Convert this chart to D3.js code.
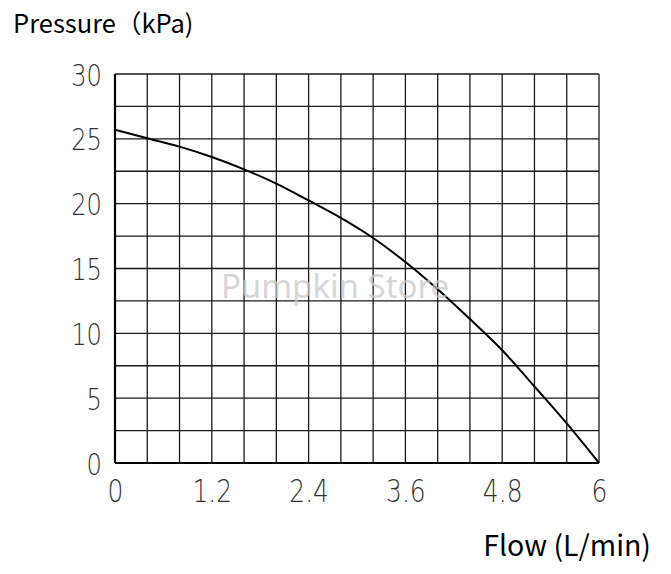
<!DOCTYPE html>
<html>
<head>
<meta charset="utf-8">
<script src="https://cdn.jsdelivr.net/npm/d3@7"></script>
<style>
  body { margin: 0; background: #fff; }
  svg { display: block; }
</style>
</head>
<body>
<div id="chart"></div>
<script>
// pump curve data
var flow = [0, 0.4, 0.8, 1.2, 1.6, 2.0, 2.4, 2.8, 3.2, 3.6, 4.0, 4.4, 4.8, 5.2, 5.6, 6.0];
var pressure = [25.7, 25.05, 24.4, 23.6, 22.65, 21.55, 20.25, 18.9, 17.35, 15.5, 13.4, 11.1, 8.7, 5.9, 3.05, 0];

var xTicks = [0, 1.2, 2.4, 3.6, 4.8, 6];
var xTickLabels = ["0", "1.2", "2.4", "3.6", "4.8", "6"];
var yTicks = [0, 5, 10, 15, 20, 25, 30];
var xGridStep = 0.4;
var yGridStep = 2.5;

var width = 671, height = 574;

var svg = d3.select("#chart")
    .append("svg")
    .attr("width", width)
    .attr("height", height);

var x = d3.scaleLinear().domain([0, 6]).range([115, 599]);
var y = d3.scaleLinear().domain([0, 30]).range([463, 74]);

// grid
var grid = svg.append("g").attr("stroke", "#1a1a1a").attr("stroke-width", 1.3);
grid.selectAll("line.v")
    .data(d3.range(0, 6 + 1e-6, xGridStep))
    .enter().append("line")
    .attr("x1", function (d) { return x(d); })
    .attr("x2", function (d) { return x(d); })
    .attr("y1", y(0))
    .attr("y2", y(30));
grid.selectAll("line.h")
    .data(d3.range(0, 30 + 1e-6, yGridStep))
    .enter().append("line")
    .attr("y1", function (d) { return y(d); })
    .attr("y2", function (d) { return y(d); })
    .attr("x1", x(0))
    .attr("x2", x(6));

// heavier left and bottom axis lines
svg.append("line")
    .attr("x1", x(0)).attr("x2", x(0)).attr("y1", y(0)).attr("y2", y(30))
    .attr("stroke", "#000").attr("stroke-width", 2.2);
svg.append("line")
    .attr("x1", x(0)).attr("x2", x(6)).attr("y1", y(0)).attr("y2", y(0))
    .attr("stroke", "#000").attr("stroke-width", 2.2);

// tick labels (thin CAD style)
var xAxis = d3.axisBottom(x)
    .tickValues(xTicks)
    .tickSize(0)
    .tickFormat(function (d, i) { return xTickLabels[i]; });
var gx = svg.append("g").attr("transform", "translate(0," + y(0) + ")").call(xAxis);
gx.select(".domain").remove();
gx.selectAll("text")
    .attr("y", 0)
    .attr("dy", 0)
    .attr("transform", "translate(0,39) scale(0.78,1)")
    .attr("font-family", "DejaVu Sans")
    .attr("font-weight", 200)
    .attr("font-size", 32)
    .attr("fill", "#333");

var yAxis = d3.axisLeft(y)
    .tickValues(yTicks)
    .tickSize(0)
    .tickFormat(d3.format("d"));
var gy = svg.append("g").attr("transform", "translate(" + x(0) + ",0)").call(yAxis);
gy.select(".domain").remove();
gy.selectAll("text")
    .attr("x", 0)
    .attr("dy", 0)
    .attr("transform", "translate(-13,11) scale(0.78,1)")
    .attr("font-family", "DejaVu Sans")
    .attr("font-weight", 200)
    .attr("font-size", 31)
    .attr("fill", "#333");

// curve
var line = d3.line()
    .x(function (d, i) { return x(flow[i]); })
    .y(function (d) { return y(d); })
    .curve(d3.curveCatmullRom);

svg.append("path")
    .datum(pressure)
    .attr("d", line)
    .attr("fill", "none")
    .attr("stroke", "#000")
    .attr("stroke-width", 2);

// watermark
svg.append("text")
    .attr("x", 335)
    .attr("y", 298)
    .attr("text-anchor", "middle")
    .attr("font-family", "Noto Sans")
    .attr("font-size", 33)
    .attr("fill", "#c8c8c8")
    .attr("fill-opacity", 0.75)
    .text("Pumpkin Store");

// axis titles
svg.append("text")
    .attr("x", 13)
    .attr("y", 33)
    .attr("font-family", "Noto Sans CJK SC")
    .attr("font-size", 25.5)
    .attr("fill", "#000")
    .text("Pressure（kPa)");

svg.append("text")
    .attr("x", 651)
    .attr("y", 556)
    .attr("text-anchor", "end")
    .attr("font-family", "Noto Sans CJK SC")
    .attr("font-size", 28.5)
    .attr("fill", "#000")
    .text("Flow (L/min)");
</script>
</body>
</html>
